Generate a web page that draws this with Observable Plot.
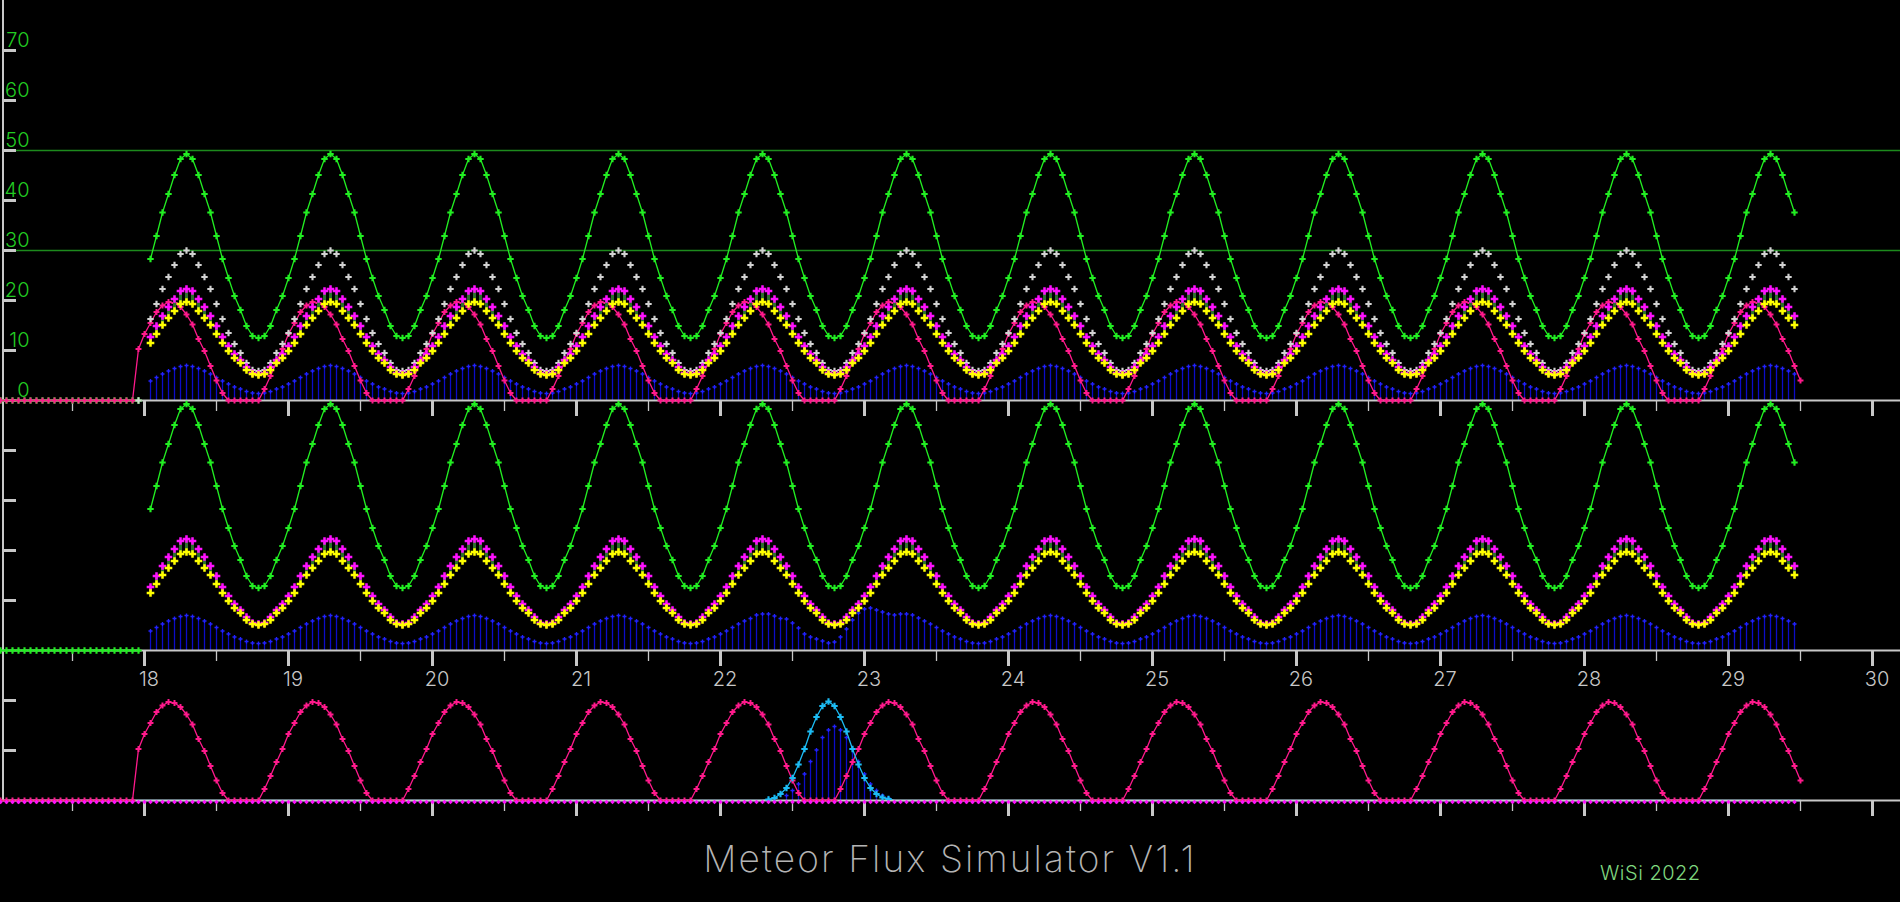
<!DOCTYPE html>
<html><head><meta charset="utf-8">
<script src="https://cdn.jsdelivr.net/npm/d3@7"></script>
<script src="https://cdn.jsdelivr.net/npm/@observablehq/plot@0.6"></script>
<style>
html,body{margin:0;padding:0;background:#000;overflow:hidden}
#footer{position:relative;width:1900px;height:72px}
#title{position:absolute;left:0;top:10px;width:1900px;text-align:center;font-family:Inter,"DejaVu Sans",sans-serif;font-weight:200;font-size:37px;line-height:1;color:#b4b4b4;letter-spacing:2.1px}
#credit{position:absolute;left:1600px;top:33px;font-family:Inter,"DejaVu Sans",sans-serif;font-weight:300;font-size:20px;line-height:1;color:#7fd77f;letter-spacing:0.5px}
</style></head><body>
<div id="chart"></div>
<div id="footer"><div id="title">Meteor Flux Simulator V1.1</div><div id="credit">WiSi 2022</div></div>
<script>
const _ = null;
const startDay = 17;          // first sample (day of month)
const samplesPerDay = 24;     // hourly samples

// x tick labels / ticks
const xLabels = [18,19,20,21,22,23,24,25,26,27,28,29,30];
const minorTicks = [17.5,18.5,19.5,20.5,21.5,22.5,23.5,24.5,25.5,26.5,27.5,28.5,29.5];
const topYTicks = [0,10,20,30,40,50,60,70];
const midYTicks = [10,20,30,40];
const botYTicks = [10,20];
const refLines = [50,30];

// ---- series, one row per day (hourly values) ----
const green = [
0,0,0,0,0,0,0,0,0,0,0,0,0,0,0,0,0,0,0,0,0,0,0,0,
_,28.3,32.9,37.6,41.3,45.1,48.3,49.3,48.3,45.1,41.3,37.6,32.9,28.3,24.5,20.9,18.1,14.9,12.9,12.5,12.9,14.9,18.1,20.9,
24.5,28.3,32.9,37.6,41.3,45.1,48.3,49.3,48.3,45.1,41.3,37.6,32.9,28.3,24.5,20.9,18.1,14.9,12.9,12.5,12.9,14.9,18.1,20.9,
24.5,28.3,32.9,37.6,41.3,45.1,48.3,49.3,48.3,45.1,41.3,37.6,32.9,28.3,24.5,20.9,18.1,14.9,12.9,12.5,12.9,14.9,18.1,20.9,
24.5,28.3,32.9,37.6,41.3,45.1,48.3,49.3,48.3,45.1,41.3,37.6,32.9,28.3,24.5,20.9,18.1,14.9,12.9,12.5,12.9,14.9,18.1,20.9,
24.5,28.3,32.9,37.6,41.3,45.1,48.3,49.3,48.3,45.1,41.3,37.6,32.9,28.3,24.5,20.9,18.1,14.9,12.9,12.5,12.9,14.9,18.1,20.9,
24.5,28.3,32.9,37.6,41.3,45.1,48.3,49.3,48.3,45.1,41.3,37.6,32.9,28.3,24.5,20.9,18.1,14.9,12.9,12.5,12.9,14.9,18.1,20.9,
24.5,28.3,32.9,37.6,41.3,45.1,48.3,49.3,48.3,45.1,41.3,37.6,32.9,28.3,24.5,20.9,18.1,14.9,12.9,12.5,12.9,14.9,18.1,20.9,
24.5,28.3,32.9,37.6,41.3,45.1,48.3,49.3,48.3,45.1,41.3,37.6,32.9,28.3,24.5,20.9,18.1,14.9,12.9,12.5,12.9,14.9,18.1,20.9,
24.5,28.3,32.9,37.6,41.3,45.1,48.3,49.3,48.3,45.1,41.3,37.6,32.9,28.3,24.5,20.9,18.1,14.9,12.9,12.5,12.9,14.9,18.1,20.9,
24.5,28.3,32.9,37.6,41.3,45.1,48.3,49.3,48.3,45.1,41.3,37.6,32.9,28.3,24.5,20.9,18.1,14.9,12.9,12.5,12.9,14.9,18.1,20.9,
24.5,28.3,32.9,37.6,41.3,45.1,48.3,49.3,48.3,45.1,41.3,37.6,32.9,28.3,24.5,20.9,18.1,14.9,12.9,12.5,12.9,14.9,18.1,20.9,
24.5,28.3,32.9,37.6,41.3,45.1,48.3,49.3,48.3,45.1,41.3,37.6,_
];
const white = [
_,_,_,_,_,_,_,_,_,_,_,_,_,_,_,_,_,_,_,_,_,_,_,0,
_,16.3,19.3,22.3,24.7,27.1,29.3,30.0,29.3,27.1,24.7,22.3,19.3,16.3,13.5,11.3,9.5,7.5,6.1,5.9,6.1,7.5,9.5,11.3,
13.5,16.3,19.3,22.3,24.7,27.1,29.3,30.0,29.3,27.1,24.7,22.3,19.3,16.3,13.5,11.3,9.5,7.5,6.1,5.9,6.1,7.5,9.5,11.3,
13.5,16.3,19.3,22.3,24.7,27.1,29.3,30.0,29.3,27.1,24.7,22.3,19.3,16.3,13.5,11.3,9.5,7.5,6.1,5.9,6.1,7.5,9.5,11.3,
13.5,16.3,19.3,22.3,24.7,27.1,29.3,30.0,29.3,27.1,24.7,22.3,19.3,16.3,13.5,11.3,9.5,7.5,6.1,5.9,6.1,7.5,9.5,11.3,
13.5,16.3,19.3,22.3,24.7,27.1,29.3,30.0,29.3,27.1,24.7,22.3,19.3,16.3,13.5,11.3,9.5,7.5,6.1,5.9,6.1,7.5,9.5,11.3,
13.5,16.3,19.3,22.3,24.7,27.1,29.3,30.0,29.3,27.1,24.7,22.3,19.3,16.3,13.5,11.3,9.5,7.5,6.1,5.9,6.1,7.5,9.5,11.3,
13.5,16.3,19.3,22.3,24.7,27.1,29.3,30.0,29.3,27.1,24.7,22.3,19.3,16.3,13.5,11.3,9.5,7.5,6.1,5.9,6.1,7.5,9.5,11.3,
13.5,16.3,19.3,22.3,24.7,27.1,29.3,30.0,29.3,27.1,24.7,22.3,19.3,16.3,13.5,11.3,9.5,7.5,6.1,5.9,6.1,7.5,9.5,11.3,
13.5,16.3,19.3,22.3,24.7,27.1,29.3,30.0,29.3,27.1,24.7,22.3,19.3,16.3,13.5,11.3,9.5,7.5,6.1,5.9,6.1,7.5,9.5,11.3,
13.5,16.3,19.3,22.3,24.7,27.1,29.3,30.0,29.3,27.1,24.7,22.3,19.3,16.3,13.5,11.3,9.5,7.5,6.1,5.9,6.1,7.5,9.5,11.3,
13.5,16.3,19.3,22.3,24.7,27.1,29.3,30.0,29.3,27.1,24.7,22.3,19.3,16.3,13.5,11.3,9.5,7.5,6.1,5.9,6.1,7.5,9.5,11.3,
13.5,16.3,19.3,22.3,24.7,27.1,29.3,30.0,29.3,27.1,24.7,22.3,_
];
const magenta = [
_,_,_,_,_,_,_,_,_,_,_,_,_,_,_,_,_,_,_,_,_,_,_,_,
_,12.7,14.9,16.9,18.7,20.3,21.9,22.3,21.9,20.3,18.7,16.9,14.9,12.7,10.9,9.3,8.1,6.7,5.5,5.3,5.5,6.7,8.1,9.3,
10.9,12.7,14.9,16.9,18.7,20.3,21.9,22.3,21.9,20.3,18.7,16.9,14.9,12.7,10.9,9.3,8.1,6.7,5.5,5.3,5.5,6.7,8.1,9.3,
10.9,12.7,14.9,16.9,18.7,20.3,21.9,22.3,21.9,20.3,18.7,16.9,14.9,12.7,10.9,9.3,8.1,6.7,5.5,5.3,5.5,6.7,8.1,9.3,
10.9,12.7,14.9,16.9,18.7,20.3,21.9,22.3,21.9,20.3,18.7,16.9,14.9,12.7,10.9,9.3,8.1,6.7,5.5,5.3,5.5,6.7,8.1,9.3,
10.9,12.7,14.9,16.9,18.7,20.3,21.9,22.3,21.9,20.3,18.7,16.9,14.9,12.7,10.9,9.3,8.1,6.7,5.5,5.3,5.5,6.7,8.1,9.3,
10.9,12.7,14.9,16.9,18.7,20.3,21.9,22.3,21.9,20.3,18.7,16.9,14.9,12.7,10.9,9.3,8.1,6.7,5.5,5.3,5.5,6.7,8.1,9.3,
10.9,12.7,14.9,16.9,18.7,20.3,21.9,22.3,21.9,20.3,18.7,16.9,14.9,12.7,10.9,9.3,8.1,6.7,5.5,5.3,5.5,6.7,8.1,9.3,
10.9,12.7,14.9,16.9,18.7,20.3,21.9,22.3,21.9,20.3,18.7,16.9,14.9,12.7,10.9,9.3,8.1,6.7,5.5,5.3,5.5,6.7,8.1,9.3,
10.9,12.7,14.9,16.9,18.7,20.3,21.9,22.3,21.9,20.3,18.7,16.9,14.9,12.7,10.9,9.3,8.1,6.7,5.5,5.3,5.5,6.7,8.1,9.3,
10.9,12.7,14.9,16.9,18.7,20.3,21.9,22.3,21.9,20.3,18.7,16.9,14.9,12.7,10.9,9.3,8.1,6.7,5.5,5.3,5.5,6.7,8.1,9.3,
10.9,12.7,14.9,16.9,18.7,20.3,21.9,22.3,21.9,20.3,18.7,16.9,14.9,12.7,10.9,9.3,8.1,6.7,5.5,5.3,5.5,6.7,8.1,9.3,
10.9,12.7,14.9,16.9,18.7,20.3,21.9,22.3,21.9,20.3,18.7,16.9,_
];
const yellow = [
_,_,_,_,_,_,_,_,_,_,_,_,_,_,_,_,_,_,_,_,_,_,_,_,
_,11.5,13.3,15.1,16.5,17.9,19.3,19.7,19.3,17.9,16.5,15.1,13.3,11.5,9.9,8.5,7.5,6.1,5.3,5.1,5.3,6.1,7.5,8.5,
9.9,11.5,13.3,15.1,16.5,17.9,19.3,19.7,19.3,17.9,16.5,15.1,13.3,11.5,9.9,8.5,7.5,6.1,5.3,5.1,5.3,6.1,7.5,8.5,
9.9,11.5,13.3,15.1,16.5,17.9,19.3,19.7,19.3,17.9,16.5,15.1,13.3,11.5,9.9,8.5,7.5,6.1,5.3,5.1,5.3,6.1,7.5,8.5,
9.9,11.5,13.3,15.1,16.5,17.9,19.3,19.7,19.3,17.9,16.5,15.1,13.3,11.5,9.9,8.5,7.5,6.1,5.3,5.1,5.3,6.1,7.5,8.5,
9.9,11.5,13.3,15.1,16.5,17.9,19.3,19.7,19.3,17.9,16.5,15.1,13.3,11.5,9.9,8.5,7.5,6.1,5.3,5.1,5.3,6.1,7.5,8.5,
9.9,11.5,13.3,15.1,16.5,17.9,19.3,19.7,19.3,17.9,16.5,15.1,13.3,11.5,9.9,8.5,7.5,6.1,5.3,5.1,5.3,6.1,7.5,8.5,
9.9,11.5,13.3,15.1,16.5,17.9,19.3,19.7,19.3,17.9,16.5,15.1,13.3,11.5,9.9,8.5,7.5,6.1,5.3,5.1,5.3,6.1,7.5,8.5,
9.9,11.5,13.3,15.1,16.5,17.9,19.3,19.7,19.3,17.9,16.5,15.1,13.3,11.5,9.9,8.5,7.5,6.1,5.3,5.1,5.3,6.1,7.5,8.5,
9.9,11.5,13.3,15.1,16.5,17.9,19.3,19.7,19.3,17.9,16.5,15.1,13.3,11.5,9.9,8.5,7.5,6.1,5.3,5.1,5.3,6.1,7.5,8.5,
9.9,11.5,13.3,15.1,16.5,17.9,19.3,19.7,19.3,17.9,16.5,15.1,13.3,11.5,9.9,8.5,7.5,6.1,5.3,5.1,5.3,6.1,7.5,8.5,
9.9,11.5,13.3,15.1,16.5,17.9,19.3,19.7,19.3,17.9,16.5,15.1,13.3,11.5,9.9,8.5,7.5,6.1,5.3,5.1,5.3,6.1,7.5,8.5,
9.9,11.5,13.3,15.1,16.5,17.9,19.3,19.7,19.3,17.9,16.5,15.1,_
];
const pink = [
0,0,0,0,0,0,0,0,0,0,0,0,0,0,0,0,0,0,0,0,0,0,0,10.3,
13.3,15.5,17.7,19.0,19.7,19.5,18.7,17.2,15.2,12.3,9.9,6.9,4.0,1.5,0,0,0,0,0,0,2.3,4.9,7.7,10.3,
13.3,15.5,17.7,19.0,19.7,19.5,18.7,17.2,15.2,12.3,9.9,6.9,4.0,1.5,0,0,0,0,0,0,2.3,4.9,7.7,10.3,
13.3,15.5,17.7,19.0,19.7,19.5,18.7,17.2,15.2,12.3,9.9,6.9,4.0,1.5,0,0,0,0,0,0,2.3,4.9,7.7,10.3,
13.3,15.5,17.7,19.0,19.7,19.5,18.7,17.2,15.2,12.3,9.9,6.9,4.0,1.5,0,0,0,0,0,0,2.3,4.9,7.7,10.3,
13.3,15.5,17.7,19.0,19.7,19.5,18.7,17.2,15.2,12.3,9.9,6.9,4.0,1.5,0,0,0,0,0,0,2.3,4.9,7.7,10.3,
13.3,15.5,17.7,19.0,19.7,19.5,18.7,17.2,15.2,12.3,9.9,6.9,4.0,1.5,0,0,0,0,0,0,2.3,4.9,7.7,10.3,
13.3,15.5,17.7,19.0,19.7,19.5,18.7,17.2,15.2,12.3,9.9,6.9,4.0,1.5,0,0,0,0,0,0,2.3,4.9,7.7,10.3,
13.3,15.5,17.7,19.0,19.7,19.5,18.7,17.2,15.2,12.3,9.9,6.9,4.0,1.5,0,0,0,0,0,0,2.3,4.9,7.7,10.3,
13.3,15.5,17.7,19.0,19.7,19.5,18.7,17.2,15.2,12.3,9.9,6.9,4.0,1.5,0,0,0,0,0,0,2.3,4.9,7.7,10.3,
13.3,15.5,17.7,19.0,19.7,19.5,18.7,17.2,15.2,12.3,9.9,6.9,4.0,1.5,0,0,0,0,0,0,2.3,4.9,7.7,10.3,
13.3,15.5,17.7,19.0,19.7,19.5,18.7,17.2,15.2,12.3,9.9,6.9,4.0,1.5,0,0,0,0,0,0,2.3,4.9,7.7,10.3,
13.3,15.5,17.7,19.0,19.7,19.5,18.7,17.2,15.2,12.3,9.9,6.9,4.0
];
const blueTop = [
_,_,_,_,_,_,_,_,_,_,_,_,_,_,_,_,_,_,_,_,_,_,_,_,
_,3.9,4.6,5.3,5.9,6.4,6.8,7.0,6.8,6.4,5.9,5.3,4.6,3.9,3.3,2.7,2.3,1.8,1.5,1.4,1.5,1.8,2.3,2.7,
3.3,3.9,4.6,5.3,5.9,6.4,6.8,7.0,6.8,6.4,5.9,5.3,4.6,3.9,3.3,2.7,2.3,1.8,1.5,1.4,1.5,1.8,2.3,2.7,
3.3,3.9,4.6,5.3,5.9,6.4,6.8,7.0,6.8,6.4,5.9,5.3,4.6,3.9,3.3,2.7,2.3,1.8,1.5,1.4,1.5,1.8,2.3,2.7,
3.3,3.9,4.6,5.3,5.9,6.4,6.8,7.0,6.8,6.4,5.9,5.3,4.6,3.9,3.3,2.7,2.3,1.8,1.5,1.4,1.5,1.8,2.3,2.7,
3.3,3.9,4.6,5.3,5.9,6.4,6.8,7.0,6.8,6.4,5.9,5.3,4.6,3.9,3.3,2.7,2.3,1.8,1.5,1.4,1.5,1.8,2.3,2.7,
3.3,3.9,4.6,5.3,5.9,6.4,6.8,7.0,6.8,6.4,5.9,5.3,4.6,3.9,3.3,2.7,2.3,1.8,1.5,1.4,1.5,1.8,2.3,2.7,
3.3,3.9,4.6,5.3,5.9,6.4,6.8,7.0,6.8,6.4,5.9,5.3,4.6,3.9,3.3,2.7,2.3,1.8,1.5,1.4,1.5,1.8,2.3,2.7,
3.3,3.9,4.6,5.3,5.9,6.4,6.8,7.0,6.8,6.4,5.9,5.3,4.6,3.9,3.3,2.7,2.3,1.8,1.5,1.4,1.5,1.8,2.3,2.7,
3.3,3.9,4.6,5.3,5.9,6.4,6.8,7.0,6.8,6.4,5.9,5.3,4.6,3.9,3.3,2.7,2.3,1.8,1.5,1.4,1.5,1.8,2.3,2.7,
3.3,3.9,4.6,5.3,5.9,6.4,6.8,7.0,6.8,6.4,5.9,5.3,4.6,3.9,3.3,2.7,2.3,1.8,1.5,1.4,1.5,1.8,2.3,2.7,
3.3,3.9,4.6,5.3,5.9,6.4,6.8,7.0,6.8,6.4,5.9,5.3,4.6,3.9,3.3,2.7,2.3,1.8,1.5,1.4,1.5,1.8,2.3,2.7,
3.3,3.9,4.6,5.3,5.9,6.4,6.8,7.0,6.8,6.4,5.9,5.3,_
];
const blueMid = [
_,_,_,_,_,_,_,_,_,_,_,_,_,_,_,_,_,_,_,_,_,_,_,_,
_,3.9,4.6,5.3,5.9,6.4,6.8,7.0,6.8,6.4,5.9,5.3,4.6,3.9,3.3,2.7,2.3,1.8,1.5,1.4,1.5,1.8,2.3,2.7,
3.3,3.9,4.6,5.3,5.9,6.4,6.8,7.0,6.8,6.4,5.9,5.3,4.6,3.9,3.3,2.7,2.3,1.8,1.5,1.4,1.5,1.8,2.3,2.7,
3.3,3.9,4.6,5.3,5.9,6.4,6.8,7.0,6.8,6.4,5.9,5.3,4.6,3.9,3.3,2.7,2.3,1.8,1.5,1.4,1.5,1.8,2.3,2.7,
3.3,3.9,4.6,5.3,5.9,6.4,6.8,7.0,6.8,6.4,5.9,5.3,4.6,3.9,3.3,2.7,2.3,1.8,1.5,1.4,1.5,1.8,2.3,2.7,
3.3,3.9,4.6,5.3,5.9,6.4,7.1,7.3,7.3,6.9,6.4,6.3,5.5,4.5,3.3,2.7,2.3,1.9,1.5,1.7,2.7,4.3,6.1,7.5,
8.3,8.5,8.1,7.7,7.3,7.1,7.3,7.3,7.1,6.5,5.9,5.3,4.6,3.9,3.3,2.7,2.3,1.8,1.5,1.4,1.5,1.8,2.3,2.7,
3.3,3.9,4.6,5.3,5.9,6.4,6.8,7.0,6.8,6.4,5.9,5.3,4.6,3.9,3.3,2.7,2.3,1.8,1.5,1.4,1.5,1.8,2.3,2.7,
3.3,3.9,4.6,5.3,5.9,6.4,6.8,7.0,6.8,6.4,5.9,5.3,4.6,3.9,3.3,2.7,2.3,1.8,1.5,1.4,1.5,1.8,2.3,2.7,
3.3,3.9,4.6,5.3,5.9,6.4,6.8,7.0,6.8,6.4,5.9,5.3,4.6,3.9,3.3,2.7,2.3,1.8,1.5,1.4,1.5,1.8,2.3,2.7,
3.3,3.9,4.6,5.3,5.9,6.4,6.8,7.0,6.8,6.4,5.9,5.3,4.6,3.9,3.3,2.7,2.3,1.8,1.5,1.4,1.5,1.8,2.3,2.7,
3.3,3.9,4.6,5.3,5.9,6.4,6.8,7.0,6.8,6.4,5.9,5.3,4.6,3.9,3.3,2.7,2.3,1.8,1.5,1.4,1.5,1.8,2.3,2.7,
3.3,3.9,4.6,5.3,5.9,6.4,6.8,7.0,6.8,6.4,5.9,5.3,_
];
const cyan = [
0,0,0,0,0,0,0,0,0,0,0,0,0,0,0,0,0,0,0,0,0,0,0,0,
0,0,0,0,0,0,0,0,0,0,0,0,0,0,0,0,0,0,0,0,0,0,0,0,
0,0,0,0,0,0,0,0,0,0,0,0,0,0,0,0,0,0,0,0,0,0,0,0,
0,0,0,0,0,0,0,0,0,0,0,0,0,0,0,0,0,0,0,0,0,0,0,0,
0,0,0,0,0,0,0,0,0,0,0,0,0,0,0,0,0,0,0,0,0,0,0,0,
0,0,0,0,0,0,0,0,0.2,0.5,1.3,2.5,4.5,7.2,10.3,13.8,16.7,18.9,19.8,18.9,16.7,13.8,10.3,7.2,
4.5,2.5,1.3,0.6,0.3,0,0,0,0,0,0,0,0,0,0,0,0,0,0,0,0,0,0,0,
0,0,0,0,0,0,0,0,0,0,0,0,0,0,0,0,0,0,0,0,0,0,0,0,
0,0,0,0,0,0,0,0,0,0,0,0,0,0,0,0,0,0,0,0,0,0,0,0,
0,0,0,0,0,0,0,0,0,0,0,0,0,0,0,0,0,0,0,0,0,0,0,0,
0,0,0,0,0,0,0,0,0,0,0,0,0,0,0,0,0,0,0,0,0,0,0,0,
0,0,0,0,0,0,0,0,0,0,0,0,0,0,0,0,0,0,0,0,0,0,0,0,
0,0,0,0,0,0,0,0,0,0,0,0,0
];
const blueBottom = [
_,_,_,_,_,_,_,_,_,_,_,_,_,_,_,_,_,_,_,_,_,_,_,_,
_,_,_,_,_,_,_,_,_,_,_,_,_,_,_,_,_,_,_,_,_,_,_,_,
_,_,_,_,_,_,_,_,_,_,_,_,_,_,_,_,_,_,_,_,_,_,_,_,
_,_,_,_,_,_,_,_,_,_,_,_,_,_,_,_,_,_,_,_,_,_,_,_,
_,_,_,_,_,_,_,_,_,_,_,_,_,_,_,_,_,_,_,_,_,_,_,_,
_,_,_,_,_,_,_,_,_,_,_,1.0,2.0,3.3,5.3,7.8,10.1,12.6,14.1,14.8,14.1,12.6,10.3,7.8,
5.3,3.3,2.0,1.0,0.5,_,_,_,_,_,_,_,_,_,_,_,_,_,_,_,_,_,_,_,
_,_,_,_,_,_,_,_,_,_,_,_,_,_,_,_,_,_,_,_,_,_,_,_,
_,_,_,_,_,_,_,_,_,_,_,_,_,_,_,_,_,_,_,_,_,_,_,_,
_,_,_,_,_,_,_,_,_,_,_,_,_,_,_,_,_,_,_,_,_,_,_,_,
_,_,_,_,_,_,_,_,_,_,_,_,_,_,_,_,_,_,_,_,_,_,_,_,
_,_,_,_,_,_,_,_,_,_,_,_,_,_,_,_,_,_,_,_,_,_,_,_,
_,_,_,_,_,_,_,_,_,_,_,_,_
];
const showerBase = [
0,0,0,0,0,0,0,0,0,0,0,0,0,0,0,0,0,0,0,0,0,0,0,0,
0,0,0,0,0,0,0,0,0,0,0,0,0,0,0,0,0,0,0,0,0,0,0,0,
0,0,0,0,0,0,0,0,0,0,0,0,0,0,0,0,0,0,0,0,0,0,0,0,
0,0,0,0,0,0,0,0,0,0,0,0,0,0,0,0,0,0,0,0,0,0,0,0,
0,0,0,0,0,0,0,0,0,0,0,0,0,0,0,0,0,0,0,0,0,0,0,0,
0,0,0,0,0,0,0,0,0,0,0,0,0,0,0,0,0,0,0,0,0,0,0,0,
0,0,0,0,0,0,0,0,0,0,0,0,0,0,0,0,0,0,0,0,0,0,0,0,
0,0,0,0,0,0,0,0,0,0,0,0,0,0,0,0,0,0,0,0,0,0,0,0,
0,0,0,0,0,0,0,0,0,0,0,0,0,0,0,0,0,0,0,0,0,0,0,0,
0,0,0,0,0,0,0,0,0,0,0,0,0,0,0,0,0,0,0,0,0,0,0,0,
0,0,0,0,0,0,0,0,0,0,0,0,0,0,0,0,0,0,0,0,0,0,0,0,
0,0,0,0,0,0,0,0,0,0,0,0,0,0,0,0,0,0,0,0,0,0,0,0,
0,0,0,0,0,0,0,0,0,0,0,0,_
];

// ---- table ----
const rows = green.map((g, k) => ({
  t: startDay + k / samplesPerDay,
  green: g, white: white[k], magenta: magenta[k], yellow: yellow[k], pink: pink[k],
  blueTop: blueTop[k], blueMid: blueMid[k], cyan: cyan[k], blueBottom: blueBottom[k], base: showerBase[k]
}));

// ---- layout (pixels per unit = 5, panel baselines in shared y units) ----
const W = 1900, H = 830, pxPerUnit = 5, pxPerDay = 144;
const yTop = 80;
const panel = {top: 0, mid: -50, bot: -80};
const baselines = [panel.top, panel.mid, panel.bot];
const xMax = startDay + W / pxPerDay;

const C = {
  green: "#22ee22", ref: "#1d8a1d", white: "#d2d2d2", magenta: "#ff10ff", yellow: "#ffff00",
  pink: "#ff1a8c", blue: "#0c0cc8", blueTip: "#2222ff", cyan: "#1cbcf4", bar: "#2c6e2c",
  axis: "#c8c8c8", ylab: "#22cc22", xlab: "#c8c8c8"
};

const at = (f, off) => d => (d[f] == null ? NaN : d[f] + off);
const has = f => rows.filter(d => d[f] != null);

function dots(f, off, fill, r) {
  return Plot.dot(has(f), {x: "t", y: at(f, off), symbol: "cross", r, fill, stroke: "none"});
}
function line(f, off, stroke) {
  return Plot.line(rows, {x: "t", y: at(f, off), stroke, strokeWidth: 1.3});
}
function bars(f, off) {
  return [
    Plot.ruleX(has(f), {x: "t", y1: off, y2: at(f, off), stroke: C.blue, strokeWidth: 1.3}),
    Plot.dot(has(f), {x: "t", y: at(f, off), symbol: "cross", r: 1.7, fill: C.blueTip, stroke: "none"})
  ];
}
function myPair(off) {
  const d = rows.filter(r => r.magenta != null && r.yellow != null);
  return [
    Plot.ruleX(d, {x: "t", y1: at("yellow", off), y2: at("magenta", off), stroke: C.bar, strokeWidth: 3}),
    dots("magenta", off, C.magenta, 3.2),
    dots("yellow", off, C.yellow, 3.2)
  ];
}

const yTickAll = [
  ...topYTicks.map(v => v + panel.top),
  ...midYTicks.map(v => v + panel.mid),
  ...botYTicks.map(v => v + panel.bot)
];
const majors = d3.cross(xLabels, baselines);
const minors = d3.cross(minorTicks, baselines);

const fontFamily = "Inter, 'DejaVu Sans', sans-serif";

const chart = Plot.plot({
  width: W, height: H, margin: 0,
  x: {domain: [startDay, xMax], axis: null},
  y: {domain: [yTop - H / pxPerUnit, yTop], axis: null},
  style: {background: "#000", fontFamily, overflow: "visible"},
  marks: [
    Plot.ruleY(refLines, {y: d => d, x1: startDay + 16 / pxPerDay, x2: xMax, stroke: C.ref, strokeWidth: 1.3}),
    ...bars("blueTop", panel.top),
    ...bars("blueMid", panel.mid),
    ...bars("blueBottom", panel.bot),
    line("green", panel.top, C.green),
    line("pink", panel.top, C.pink),
    line("green", panel.mid, C.green),
    line("pink", panel.bot, C.pink),
    line("cyan", panel.bot, C.cyan),
    Plot.ruleY(baselines, {y: d => d, stroke: C.axis, strokeWidth: 2}),
    Plot.ruleX(majors, {x: d => d[0], y1: d => d[1], y2: d => d[1] - 16 / pxPerUnit, stroke: C.axis, strokeWidth: 3}),
    Plot.ruleX(minors, {x: d => d[0], y1: d => d[1], y2: d => d[1] - 11 / pxPerUnit, stroke: C.axis, strokeWidth: 1.3}),
    Plot.ruleX([startDay], {y1: panel.bot, y2: yTop, dx: 2.5, stroke: C.axis, strokeWidth: 2}),
    Plot.ruleY(yTickAll, {y: d => d, x1: startDay + 2 / pxPerDay, x2: startDay + 16 / pxPerDay, stroke: C.axis, strokeWidth: 3}),
    dots("green", panel.top, C.green, 2.7),
    dots("pink", panel.top, C.pink, 2.5),
    dots("white", panel.top, C.white, 2.7),
    ...myPair(panel.top),
    dots("green", panel.mid, C.green, 2.7),
    ...myPair(panel.mid),
    dots("pink", panel.bot, C.pink, 2.5),
    Plot.dot(rows.filter(d => d.cyan > 0), {x: "t", y: at("cyan", panel.bot), symbol: "cross", r: 2.7, fill: C.cyan, stroke: "none"}),
    Plot.dot(has("base"), {x: "t", y: at("base", panel.bot), symbol: "diamond2", r: 2, dy: 1.5, fill: C.magenta, stroke: "none"}),
    Plot.text(topYTicks, {x: startDay, y: d => d + panel.top, text: d => String(d), dx: 29, dy: -10, textAnchor: "end", fill: C.ylab, fontSize: 20, fontWeight: 300}),
    Plot.text(xLabels, {x: d => d, y: panel.mid, text: d => String(d), dx: 4.5, dy: 29, fill: C.xlab, fontSize: 20, fontWeight: 300})
  ]
});
document.getElementById("chart").appendChild(chart);
</script>
</body></html>
